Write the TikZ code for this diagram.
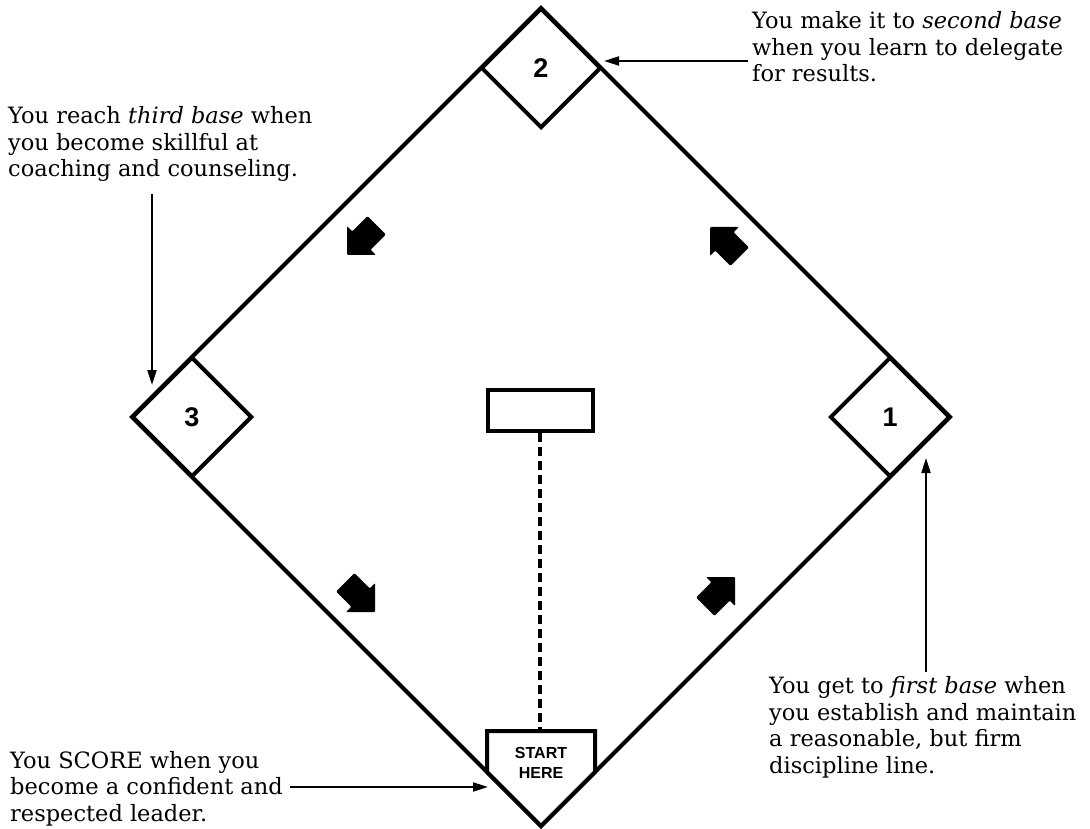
\documentclass[tikz,border=0pt]{standalone}
\usepackage{fontspec}
\setmainfont{DejaVu Serif}
\newfontfamily\helv{Liberation Sans}
\usetikzlibrary{arrows.meta,shapes.geometric}
\begin{document}
\begin{tikzpicture}[x=1pt,y=-1pt,
  field/.style={line width=4pt, line join=miter},
  basesq/.style={diamond, draw, fill=white, line width=4pt, aspect=1,
    minimum width=120pt, minimum height=120pt, inner sep=0pt,
    font=\helv\bfseries\fontsize{27}{27}\selectfont},
  plate/.style={line width=4pt, fill=white, line join=miter},
  mound/.style={draw, line width=4pt, minimum width=105pt, minimum height=41pt, inner sep=0pt},
  dashline/.style={line width=4pt, dash pattern=on 9pt off 5pt},
  callout/.style={line width=2pt, -{Triangle[length=15pt,width=9pt]}},
  note/.style={font=\fontsize{22.5}{26.5}\selectfont, align=left, inner sep=0pt, anchor=base west},
  starttxt/.style={font=\helv\bfseries\fontsize{16}{20}\selectfont, align=center, inner sep=0pt},
  blockarr/.pic={\fill[rounded corners=1pt] (0,0) -- (-20.5,20.5) -- (-20.5,13) -- (-42,13) -- (-42,-13) -- (-20.5,-13) -- (-20.5,-20.5) -- cycle;}]
\useasboundingbox (0,0) rectangle (1090,829);
% field
\coordinate (T) at (541,8);
\coordinate (L) at (132,417);
\coordinate (B) at (541,826);
\coordinate (R) at (950,417);
\draw[field] (T) -- (L) -- (B) -- (R) -- cycle;
% bases
\node[basesq] (b2) at (541,68) {2};
\node[basesq] (b3) at (192,417) {3};
\node[basesq] (b1) at (890,417) {1};
% home plate
\draw[plate] (487,731) -- (595,731) -- (595,772) -- (B) -- (487,772) -- cycle;
\coordinate (platetop) at (541,731);
\node[starttxt] (home) at (541,763) {START\\HERE};
% pitcher's mound and dashed line
\node[mound] (mnd) at (540,410.5) {};
\draw[dashline] (mnd.south) -- (mnd.south |- platetop);
% block arrows
\pic[rotate=45] (a01) at (735,577) {blockarr};
\pic[rotate=135] (a12) at (710,227) {blockarr};
\pic[rotate=225] (a23) at (347,255) {blockarr};
\pic[rotate=-45] (a30) at (375,612) {blockarr};
% notes (anchor = baseline of last line)
\node[note] (t2) at (752,82) {You make it to \textit{second base}\\when you learn to delegate\\for results.};
\node[note] (t3) at (8,177) {You reach \textit{third base} when\\you become skillful at\\coaching and counseling.};
\node[note] (t1) at (769,773) {You get to \textit{first base} when\\you establish and maintain\\a reasonable, but firm\\discipline line.};
\node[note] (ts) at (10,821) {You SCORE when you\\become a confident and\\respected leader.};
% callouts
\coordinate (c2s) at (748,61);
\coordinate (c2e) at (604,61);
\draw[callout] (c2s) -- (c2e);
\coordinate (c3s) at (152,194);
\coordinate (c3e) at (152,385);
\draw[callout] (c3s) -- (c3e);
\coordinate (c1s) at (926,672);
\coordinate (c1e) at (926,458);
\draw[callout] (c1s) -- (c1e);
\coordinate (css) at (290,787);
\coordinate (cse) at (488,787);
\draw[callout] (css) -- (cse);
\end{tikzpicture}
\end{document}
